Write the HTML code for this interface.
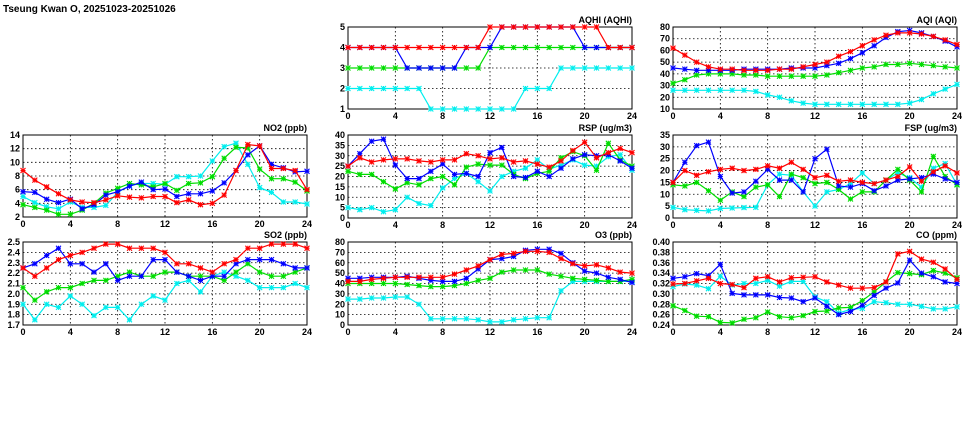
<!DOCTYPE html>
<html><head><meta charset="utf-8"><style>
body{margin:0;background:#fff;width:975px;height:447px;overflow:hidden}
svg{display:block}
text{font-family:"Liberation Sans",sans-serif;font-weight:bold;font-size:9px;fill:#000}
</style></head><body>
<svg id="chart" width="975" height="447" viewBox="0 0 975 447">
<text x="3" y="12" style="font-size:10px">Tseung Kwan O, 20251023-20251026</text>
</svg>
<script>
const hours = [0,1,2,3,4,5,6,7,8,9,10,11,12,13,14,15,16,17,18,19,20,21,22,23,24];
const xTicks = [0,4,8,12,16,20,24];
const seriesNames = ['cyan','green','blue','red'];
const seriesColors = {red:'#ff0000',blue:'#0000ff',green:'#00dd00',cyan:'#00eeee'};

const no2Red=[8.8,7.4,6.4,5.4,4.5,4.2,4.1,4.5,5.1,4.9,4.8,5.0,5.0,4.1,4.5,3.8,4.0,5.2,8.8,12.6,12.4,9.1,9.1,8.8,6.0];
const no2Blue=[5.7,5.6,4.6,4.1,4.6,3.2,3.8,5.2,5.7,6.5,7.1,6.0,6.1,5.0,5.4,5.4,5.8,7.0,8.8,11.1,12.4,9.7,9.2,8.6,8.7];
const no2Green=[3.8,3.4,3.0,2.4,2.4,3.0,4.0,5.5,6.2,6.9,6.7,6.4,6.9,5.9,6.9,7.0,7.9,10.6,12.2,12.1,9.0,7.6,7.6,7.1,5.8];
const no2Cyan=[5.0,4.1,3.5,3.2,4.2,3.4,3.4,3.7,5.6,6.6,6.9,6.9,6.8,7.9,7.9,8.0,10.2,12.3,12.8,9.7,6.3,5.6,4.2,4.2,3.9];

const so2Red=[2.25,2.17,2.25,2.33,2.37,2.40,2.44,2.48,2.48,2.44,2.44,2.44,2.40,2.29,2.29,2.25,2.21,2.29,2.33,2.44,2.44,2.48,2.48,2.48,2.44];
const so2Blue=[2.25,2.29,2.37,2.44,2.29,2.29,2.21,2.29,2.13,2.17,2.17,2.33,2.33,2.21,2.17,2.13,2.17,2.17,2.29,2.33,2.33,2.33,2.29,2.25,2.25];
const so2Green=[2.06,1.94,2.02,2.06,2.06,2.10,2.13,2.13,2.17,2.21,2.17,2.17,2.21,2.21,2.17,2.17,2.17,2.13,2.21,2.29,2.21,2.17,2.17,2.21,2.25];
const so2Cyan=[1.90,1.75,1.90,1.87,1.98,1.90,1.79,1.87,1.87,1.75,1.90,1.98,1.94,2.10,2.13,2.02,2.17,2.21,2.17,2.13,2.06,2.06,2.06,2.10,2.06];

const aqhiRed=[4,4,4,4,4,4,4,4,4,4,4,4,5,5,5,5,5,5,5,5,5,5,4,4,4];
const aqhiBlue=[4,4,4,4,4,3,3,3,3,3,4,4,4,5,5,5,5,5,5,5,4,4,4,4,4];
const aqhiGreen=[3,3,3,3,3,3,3,3,3,3,3,3,4,4,4,4,4,4,4,4,4,4,4,4,4];
const aqhiCyan=[2,2,2,2,2,2,2,1,1,1,1,1,1,1,1,2,2,2,3,3,3,3,3,3,3];

const rspRed=[25,29,27,28,28.5,28.5,27.5,27,28,28,31,30,28.5,29,27,27.5,26,24.5,27.5,32.5,36.5,29,31.5,33.5,31.5];
const rspBlue=[25,31,37,38,25.5,19,19,22.5,26,21,21.5,20,31.5,34,20,19.5,22.5,20,24,28.5,30.5,30,30.5,27.5,24];
const rspGreen=[22.5,21,21,17.5,14,17,16,19,20,16,24.5,26,25.5,25.5,21,19,21.5,22.5,29,32,30,23,36,28,25];
const rspCyan=[5,4,5,3,4,10,7,6,14.5,19,21.5,17.5,13,20,22.5,24,28,23.5,25.5,28,25.5,25,29.5,30.5,23];

const aqiRed=[62,56,50,46,44,44,43,43,43,44,44,46,48,50,55,59,64,69,73,75,75,74,72,69,65];
const aqiBlue=[45,44,43,43,43,43,44,44,44,44,45,45,45,47,49,53,58,64,71,76,77,75,72,68,63];
const aqiGreen=[32,35,39,40,40,40,39,39,38,38,38,38,38,39,41,43,45,46,48,48,49,48,47,46,45];
const aqiCyan=[26,26,26,26,26,26,26,25,22,20,17,15,14,14,14,14,14,14,14,14,15,18,23,27,31];

const fspRed=[15,20,18,19.5,20.5,21,20,20.5,22,21,23.5,20.5,17,18,15.5,16,15,14.5,16,17.5,21.5,15.5,19.5,22,19];
const fspBlue=[15,23.5,30.5,32,17.5,10.5,11,15.5,20.5,16,16,11,25,29,13.5,13,14.5,11.5,13.5,16,16.5,17,18.5,16.5,15];
const fspGreen=[14,13.5,15,11.5,7.5,11,9,13,14,9,18.5,17,14.5,15,12,8,11,11,16,20.5,16,11,26,17.5,14];
const fspCyan=[4.5,3.5,3.2,3,4,4.2,4.4,4.5,14,18.5,18,11,5,11,12,14.5,19,14.5,16,19,17,13,21,23,14];

const o3Red=[42,42,44,45,46,46,46,46,46,49,53,57,63,68,69,71,71,70,64,59,57,58,55,51,50];
const o3Blue=[45,45,46,46,46,47,45,43,42,42,45,54,63,64,66,72,73,73,69,60,52,50,46,44,41];
const o3Green=[40,40,40,40,40,39,38,37,37,38,40,43,45,51,53,53,53,49,47,45,44,43,42,42,44];
const o3Cyan=[25,25,26,26,27,27,20,6,6,6,6,5,3,3,5,6,7,7,33,42,42,42,42,42,42];

const coRed=[.319,.320,.325,.330,.320,.318,.312,.330,.333,.323,.331,.332,.333,.323,.317,.311,.311,.312,.323,.377,.382,.367,.361,.348,.328];
const coBlue=[.330,.333,.339,.335,.357,.301,.298,.298,.298,.293,.292,.285,.292,.276,.260,.266,.278,.297,.311,.321,.365,.340,.333,.323,.320];
const coGreen=[.277,.268,.257,.256,.245,.244,.251,.254,.265,.256,.254,.258,.266,.267,.273,.274,.287,.304,.323,.341,.339,.337,.345,.340,.331];
const coCyan=[.314,.319,.317,.310,.334,.317,.320,.320,.326,.315,.324,.324,.294,.285,.263,.270,.272,.285,.283,.280,.280,.276,.271,.271,.275];

const no2Ticks=[2,4,6,8,10,12,14];
const so2Ticks=[1.7,1.8,1.9,2.0,2.1,2.2,2.3,2.4,2.5];
const aqhiTicks=[1,2,3,4,5];
const rspTicks=[0,5,10,15,20,25,30,35,40];
const aqiTicks=[10,20,30,40,50,60,70,80];
const fspTicks=[0,5,10,15,20,25,30,35];
const o3Ticks=[0,10,20,30,40,50,60,70,80];
const coTicks=[0.24,0.26,0.28,0.30,0.32,0.34,0.36,0.38,0.40];

const panels=[
 {id:'aqhi',title:'AQHI (AQHI)',x0:348,x1:632,y0:27,y1:109,ticks:aqhiTicks,dec:0,s:{red:aqhiRed,blue:aqhiBlue,green:aqhiGreen,cyan:aqhiCyan}},
 {id:'aqi',title:'AQI (AQI)',x0:673,x1:957,y0:27,y1:109,ticks:aqiTicks,dec:0,s:{red:aqiRed,blue:aqiBlue,green:aqiGreen,cyan:aqiCyan}},
 {id:'no2',title:'NO2 (ppb)',x0:23,x1:307,y0:135,y1:217,ticks:no2Ticks,dec:0,s:{red:no2Red,blue:no2Blue,green:no2Green,cyan:no2Cyan}},
 {id:'rsp',title:'RSP (ug/m3)',x0:348,x1:632,y0:135,y1:218,ticks:rspTicks,dec:0,s:{red:rspRed,blue:rspBlue,green:rspGreen,cyan:rspCyan}},
 {id:'fsp',title:'FSP (ug/m3)',x0:673,x1:957,y0:135,y1:218,ticks:fspTicks,dec:0,s:{red:fspRed,blue:fspBlue,green:fspGreen,cyan:fspCyan}},
 {id:'so2',title:'SO2 (ppb)',x0:23,x1:307,y0:242,y1:325,ticks:so2Ticks,dec:1,s:{red:so2Red,blue:so2Blue,green:so2Green,cyan:so2Cyan}},
 {id:'o3',title:'O3 (ppb)',x0:348,x1:632,y0:242,y1:325,ticks:o3Ticks,dec:0,s:{red:o3Red,blue:o3Blue,green:o3Green,cyan:o3Cyan}},
 {id:'co',title:'CO (ppm)',x0:673,x1:957,y0:242,y1:325,ticks:coTicks,dec:2,s:{red:coRed,blue:coBlue,green:coGreen,cyan:coCyan}}
];
const NS='http://www.w3.org/2000/svg';
const svg=document.getElementById('chart');
function mk(tag,attrs,parent){const e=document.createElementNS(NS,tag);for(const k in attrs)e.setAttribute(k,attrs[k]);(parent||svg).appendChild(e);return e;}
panels.forEach(p=>{
  const g=mk('g',{});
  
  
  const ymin=p.ticks[0],ymax=p.ticks[p.ticks.length-1];
  const xs=v=>p.x0+(v-0)/24*(p.x1-p.x0);
  const ys=v=>p.y1-(v-ymin)/(ymax-ymin)*(p.y1-p.y0);
  p.ticks.forEach(t=>{
    const y=ys(t);
    if(t!==ymin&&t!==ymax){const l=mk('line',{x1:p.x0,x2:p.x1,y1:y,y2:y,stroke:'#000','stroke-width':0.8,'stroke-dasharray':'1.5,2.5'},g);
      }
    const tx=mk('text',{x:p.x0-3,y:y+3,'text-anchor':'end'},g);tx.textContent=t.toFixed(p.dec);
    
  });
  xTicks.forEach(t=>{
    const x=xs(t);
    if(t!==0&&t!==24){const l=mk('line',{x1:x,x2:x,y1:p.y0,y2:p.y1,stroke:'#000','stroke-width':0.8,'stroke-dasharray':'1.5,2.5'},g);
      }
    const tx=mk('text',{x:x,y:p.y1+10,'text-anchor':'middle'},g);tx.textContent=t;
    
  });
  const fr=mk('rect',{x:p.x0,y:p.y0,width:p.x1-p.x0,height:p.y1-p.y0,fill:'none',stroke:'#000','stroke-width':1},g);
  
  const tt=mk('text',{x:p.x1,y:p.y0-4,'text-anchor':'end'},g);tt.textContent=p.title;
  
  seriesNames.forEach(n=>{
    const vals=p.s[n],c=seriesColors[n];
    const pts=vals.map((v,i)=>xs(hours[i]).toFixed(1)+','+ys(v).toFixed(1)).join(' ');
    const pl=mk('polyline',{points:pts,fill:'none',stroke:c,'stroke-width':1.2},g);
    
    
    vals.forEach((v,i)=>{
      const x=xs(hours[i]),y=ys(v),r=2.5;
      const m=mk('path',{d:`M${x-r},${y-r}L${x+r},${y+r}M${x-r},${y+r}L${x+r},${y-r}M${x-r},${y}L${x+r},${y}M${x},${y-r}L${x},${y+r}`,stroke:c,'stroke-width':1.1},g);
      
      
    });
  });
});
</script>
</body></html>
